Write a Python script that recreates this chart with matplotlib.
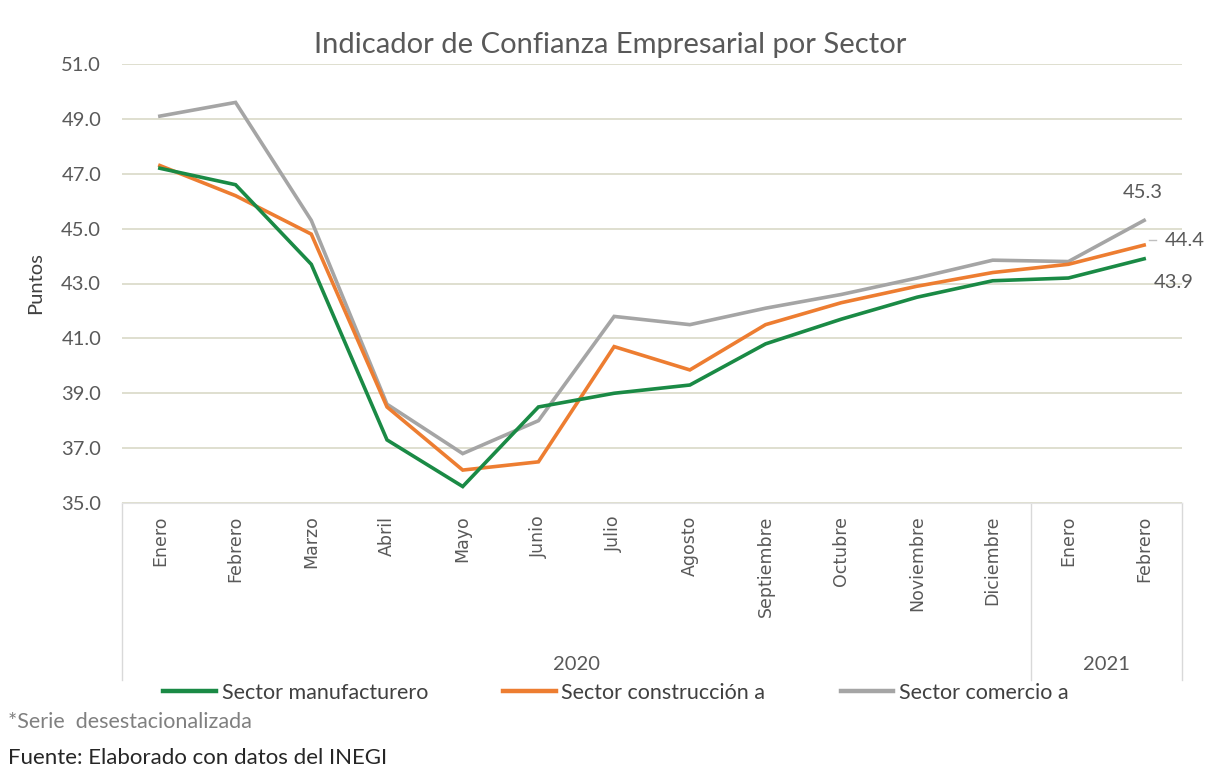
import matplotlib
matplotlib.use("Agg")
import matplotlib.pyplot as plt
from matplotlib.lines import Line2D

plt.rcParams['font.family'] = ['Lato', 'DejaVu Sans']

months = ["Enero", "Febrero", "Marzo", "Abril", "Mayo", "Junio", "Julio",
          "Agosto", "Septiembre", "Octubre", "Noviembre", "Diciembre",
          "Enero", "Febrero"]
years = ["2020", "2021"]
year_counts = [12, 2]
manufacturero = [47.2, 46.6, 43.7, 37.3, 35.6, 38.5, 39.0, 39.3, 40.8, 41.7, 42.5, 43.1, 43.2, 43.9]
construccion = [47.3, 46.2, 44.8, 38.5, 36.2, 36.5, 40.7, 39.85, 41.5, 42.3, 42.9, 43.4, 43.7, 44.4]
comercio = [49.1, 49.6, 45.3, 38.6, 36.8, 38.0, 41.8, 41.5, 42.1, 42.6, 43.2, 43.85, 43.8, 45.3]
series_names = ["Sector manufacturero", "Sector construcción a", "Sector comercio a"]
colors = ["#1a8a45", "#ed7d31", "#a5a5a5"]
yticks = [35.0, 37.0, 39.0, 41.0, 43.0, 45.0, 47.0, 49.0, 51.0]

fig = plt.figure(figsize=(12.25, 7.82), dpi=100)
ax = fig.add_axes([122/1225, 1-503/782, (1182-122)/1225, (503-64)/782])

x = list(range(len(months)))
for vals, c in zip([comercio, construccion, manufacturero], [colors[2], colors[1], colors[0]]):
    ax.plot(x, vals, color=c, lw=2.6, solid_joinstyle='miter', zorder=3)

ax.set_xlim(-0.5, len(months) - 0.5)
ax.set_ylim(35, 51)
ax.set_yticks(yticks)
ax.set_yticklabels([f"{v:.1f}" for v in yticks], fontsize=14.5, color="#595959")
ax.yaxis.grid(True, color="#dcdccc", lw=1.3)
ax.set_axisbelow(True)
for s in ["top", "right", "left"]:
    ax.spines[s].set_visible(False)
ax.spines["bottom"].set_color("#e3e3e3")
ax.tick_params(axis='y', length=0, pad=15)
ax.tick_params(axis='x', length=0, pad=9)
ax.set_xticks(x)
ax.set_xticklabels(months, rotation=90, fontsize=12.5, color="#595959", va='top',
                   family=['DejaVu Sans'])
ax.set_ylabel("Puntos", fontsize=14.5, color="#404040", labelpad=12)

# category dividers
trans = ax.get_xaxis_transform()
bottom_frac = (503 - 680) / (503 - 64)
edges = [-0.5]
for n in year_counts:
    edges.append(edges[-1] + n)
for e in edges:
    ax.plot([e, e], [0, bottom_frac], transform=trans, color="#d9d9d9", lw=1, clip_on=False)
year_y = (503 - 665) / (503 - 64)
for i, yr in enumerate(years):
    mid = (edges[i] + edges[i + 1]) / 2
    ax.text(mid, year_y, yr, transform=trans, ha='center', va='center',
            fontsize=14.5, color="#595959")

# end annotations
last = len(months) - 1
ax.annotate(f"{comercio[-1]:.1f}", (last, comercio[-1]), xytext=(-1, 20),
            textcoords='offset points', ha='center', va='center', fontsize=14.5, color="#595959")
ax.annotate(f"{construccion[-1]:.1f}", (last, construccion[-1]), xytext=(29, 3),
            textcoords='offset points', ha='center', va='center', fontsize=14.5, color="#595959")
ax.plot([last + 0.07, last + 0.15], [44.6, 44.6], color="#bfbfbf", lw=1, clip_on=False)
ax.annotate(f"{manufacturero[-1]:.1f}", (last, manufacturero[-1]), xytext=(21, -17),
            textcoords='offset points', ha='center', va='center', fontsize=14.5, color="#595959")

fig.text(610/1225, 1-45/782, "Indicador de Confianza Empresarial por Sector",
         ha='center', va='center', fontsize=21, color="#595959")

handles = [Line2D([0], [0], color=c, lw=3.2) for c in colors]
fig.legend(handles, series_names, loc='center left', bbox_to_anchor=(144/1225, 1-693/782),
           ncol=3, frameon=False, fontsize=15.5, handlelength=2.45, handletextpad=0.25,
           columnspacing=3.5, labelcolor="#404040")

fig.text(8/1225, 1-722/782, "*Serie  desestacionalizada", ha='left', va='center',
         fontsize=15.5, color="#808080")
fig.text(8/1225, 1-758/782, "Fuente: Elaborado con datos del INEGI", ha='left', va='center',
         fontsize=16, color="#262626")

fig.savefig("out.png", dpi=100, facecolor="white")
